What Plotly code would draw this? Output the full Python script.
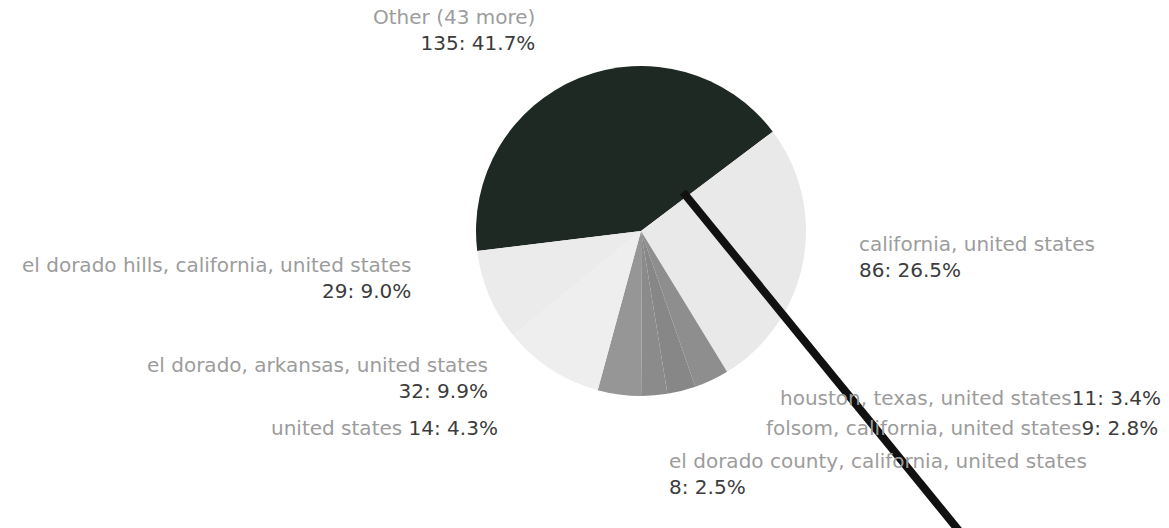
import plotly.graph_objects as go

# Slice data (clockwise, starting with the aggregated "Other" bucket)
labels = [
    "Other (43 more)",
    "california, united states",
    "houston, texas, united states",
    "folsom, california, united states",
    "el dorado county, california, united states",
    "united states",
    "el dorado, arkansas, united states",
    "el dorado hills, california, united states",
]
counts = [135, 86, 11, 9, 8, 14, 32, 29]
slice_colors = ["#1f2924", "#e9e9e9", "#8e8e8e", "#878787", "#8b8b8b",
                "#969696", "#eeeeee", "#ebebeb"]

W, H = 1169, 528
total = sum(counts)

# Label placement: (x px, y px of block centre, anchor, separator between name and value)
label_layout = [
    (537, 30, "right", "<br>"),
    (857, 257, "left", "<br>"),
    (1163, 398, "right", ""),
    (1160, 428, "right", ""),
    (667, 474, "left", "<br>"),
    (500, 428, "right", " "),
    (490, 378, "right", "<br>"),
    (413, 278, "right", "<br>"),
]

cx, cy, r = 641, 231, 165

fig = go.Figure(
    go.Pie(
        labels=labels,
        values=counts,
        sort=False,
        direction="clockwise",
        rotation=263,
        textinfo="none",
        hoverinfo="label+value+percent",
        marker=dict(colors=slice_colors, line=dict(width=0)),
        domain=dict(x=[(cx - r) / W, (cx + r) / W],
                    y=[(H - cy - r) / H, (H - cy + r) / H]),
        showlegend=False,
    )
)

annotations = []
for lab, val, (px, py, anchor, sep) in zip(labels, counts, label_layout):
    pct = val / total * 100
    text = (f"<span style='color:#9c9c9c'>{lab}</span>{sep}"
            f"<span style='color:#3c3c3c'>{val}: {pct:.1f}%</span>")
    annotations.append(dict(
        x=px / W, y=1 - py / H, xref="paper", yref="paper",
        xanchor=anchor, yanchor="middle", align=anchor,
        text=text, showarrow=False,
        font=dict(family="DejaVu Sans", size=20),
    ))

fig.update_layout(
    width=W, height=H,
    margin=dict(l=0, r=0, t=0, b=0),
    paper_bgcolor="white",
    plot_bgcolor="white",
    annotations=annotations,
    # pen stroke across the lower right of the page
    shapes=[dict(type="line", xref="paper", yref="paper",
                 x0=683 / W, y0=1 - 192 / H, x1=960 / W, y1=1 - 532 / H,
                 line=dict(color="#111111", width=8))],
)

fig.write_html("out.html")
